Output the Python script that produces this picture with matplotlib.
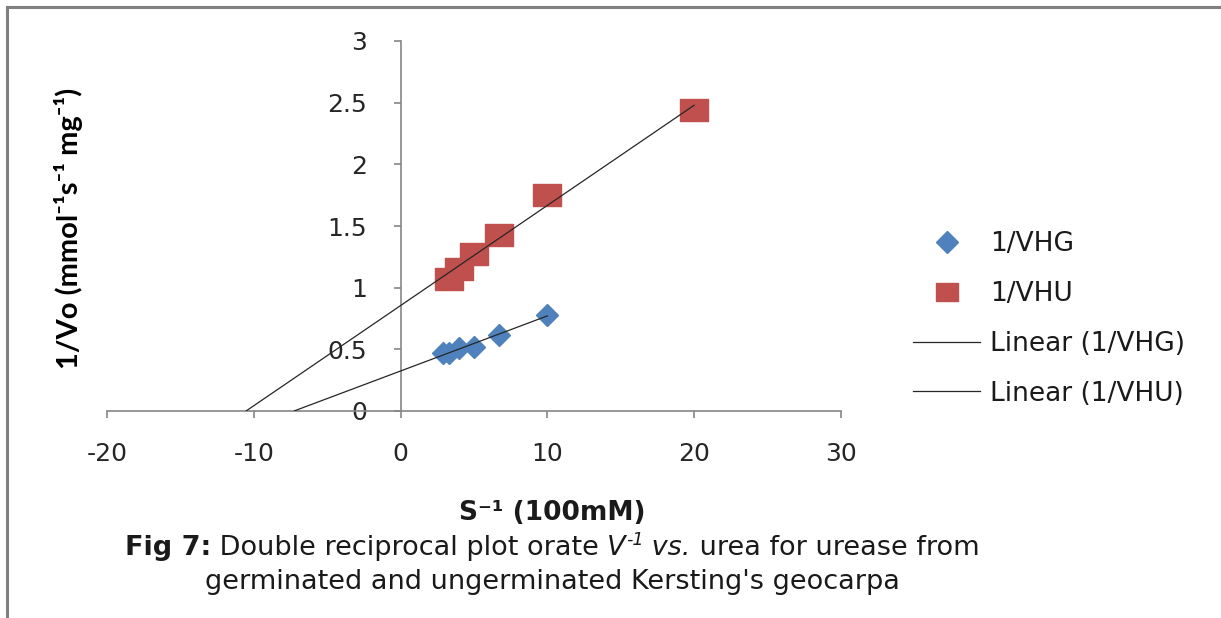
import numpy as np
import matplotlib.pyplot as plt
from matplotlib.lines import Line2D

# ======================
# DATOS
# ======================
s_inv_g = [2.86, 3.33, 4.0, 5.0, 6.67, 10.0]     # 1/S germinated
v_inv_g = [0.47, 0.47, 0.51, 0.52, 0.62, 0.78]   # 1/VHG
s_inv_u = [3.33, 4.0, 5.0, 6.67, 10.0, 20.0]     # 1/S ungerminated
v_inv_u = [1.07, 1.15, 1.27, 1.43, 1.75, 2.44]   # 1/VHU

x_ticks = [-20, -10, 0, 10, 20, 30]
x_labels = ["-20", "-10", "0", "10", "20", "30"]
y_ticks = [0, 0.5, 1, 1.5, 2, 2.5, 3]
y_labels = ["0", "0.5", "1", "1.5", "2", "2.5", "3"]

series_names = ["1/VHG", "1/VHU", "Linear (1/VHG)", "Linear (1/VHU)"]

blue = "#4F81BD"
red = "#C0504D"
gray = "#868686"
txt = "#1a1a1a"

W, H = 1221, 618
fig = plt.figure(figsize=(W / 100, H / 100), dpi=100)
ax = fig.add_axes([107 / W, 207 / H, 734 / W, 370 / H])

# ======================
# PUNTOS
# ======================
sq = [(-1.2, -1), (1.2, -1), (1.2, 1), (-1.2, 1), (-1.2, -1)]
ax.plot(s_inv_g, v_inv_g, linestyle="none", marker="D", markersize=11.5,
        color=blue, markeredgecolor=blue, zorder=3)
ax.plot(s_inv_u, v_inv_u, linestyle="none", marker=sq, markersize=19.5,
        color=red, markeredgecolor=red, zorder=3)

# lineas de tendencia (extendidas hacia atras hasta y = 0)
for xs, ys in [(s_inv_g, v_inv_g), (s_inv_u, v_inv_u)]:
    m, b = np.polyfit(xs, ys, 1)
    xl = np.array([-b / m, max(xs)])
    ax.plot(xl, m * xl + b, color="#262626", lw=0.9, zorder=4)

# ======================
# EJES
# ======================
ax.set_xlim(-20, 30)
ax.set_ylim(0, 3)
for s in ["top", "right"]:
    ax.spines[s].set_visible(False)
ax.spines["left"].set_position(("data", 0))
for s in ["left", "bottom"]:
    ax.spines[s].set_color(gray)
    ax.spines[s].set_linewidth(1.2)

ax.set_xticks(x_ticks)
ax.set_xticklabels(x_labels)
ax.set_yticks(y_ticks)
ax.set_yticklabels(y_labels)
ax.tick_params(direction="out", length=5, width=1.2, color=gray,
               labelsize=18, labelcolor="#262626")
ax.tick_params(axis="x", pad=17)
ax.tick_params(axis="y", pad=19)
for lab in ax.get_xticklabels() + ax.get_yticklabels():
    lab.set_family("DejaVu Sans")

ax.set_ylabel("1/Vo (mmol\u207b\u00b9s\u207b\u00b9 mg\u207b\u00b9)",
              family=["Lato", "DejaVu Sans"], fontweight="bold", fontsize=21)
ax.yaxis.set_label_coords(83 / W, 1 - 228 / H, transform=fig.transFigure)

fig.text(552 / W, 1 - 520 / H, "S\u207b\u00b9 (100mM)", family="DejaVu Sans",
         fontweight="bold", fontsize=19, ha="center", va="baseline", color=txt)

# ======================
# PIE DE FIGURA
# ======================
fs = 19.5
cap1 = [
    ("Fig 7:", {"fontweight": "bold"}, 0),
    (" Double reciprocal plot orate ", {}, 0),
    ("V", {"style": "italic"}, 0),
    ("-1", {"style": "italic", "fontsize": fs * 0.65}, fs * 0.5),
    (" vs.", {"style": "italic"}, 0),
    (" urea for urease from", {}, 0),
]
cap2 = [("germinated and ungerminated Kersting's geocarpa", {}, 0)]

renderer = fig.canvas.get_renderer()


def chain(pieces, cx, base):
    texts = []
    for s, kw, dy in pieces:
        opts = {"family": "DejaVu Sans", "fontsize": fs, "color": txt}
        opts.update(kw)
        texts.append(fig.text(0, 1 - (base - dy) / H, s, ha="left", va="baseline", **opts))
    widths = [t.get_window_extent(renderer).width for t in texts]
    x = cx - sum(widths) / 2
    for t, w in zip(texts, widths):
        t.set_x(x / W)
        x += w


chain(cap1, 552, 555)
chain(cap2, 552, 589)

# ======================
# LEYENDA
# ======================
handles = [
    Line2D([], [], linestyle="none", marker="D", markersize=11, color=blue),
    Line2D([], [], linestyle="none", marker=sq, markersize=16, color=red),
    Line2D([], [], color="#262626", lw=0.9),
    Line2D([], [], color="#262626", lw=0.9),
]
leg = fig.legend(handles, series_names, loc="center left",
                 bbox_to_anchor=(913 / W, 1 - 319 / H), frameon=False,
                 prop={"family": "DejaVu Sans", "size": 19}, handlelength=2.54,
                 handletextpad=0.38, labelspacing=0.9, borderpad=0, borderaxespad=0)
for t in leg.get_texts():
    t.set_color(txt)

# borde de la figura
fig.add_artist(Line2D([7 / W, 1], [1 - 7 / H, 1 - 7 / H], transform=fig.transFigure,
                      color="#808080", lw=2.2))
fig.add_artist(Line2D([7 / W, 7 / W], [0, 1 - 7 / H], transform=fig.transFigure,
                      color="#808080", lw=2.2))

plt.savefig("out.png", dpi=100)
